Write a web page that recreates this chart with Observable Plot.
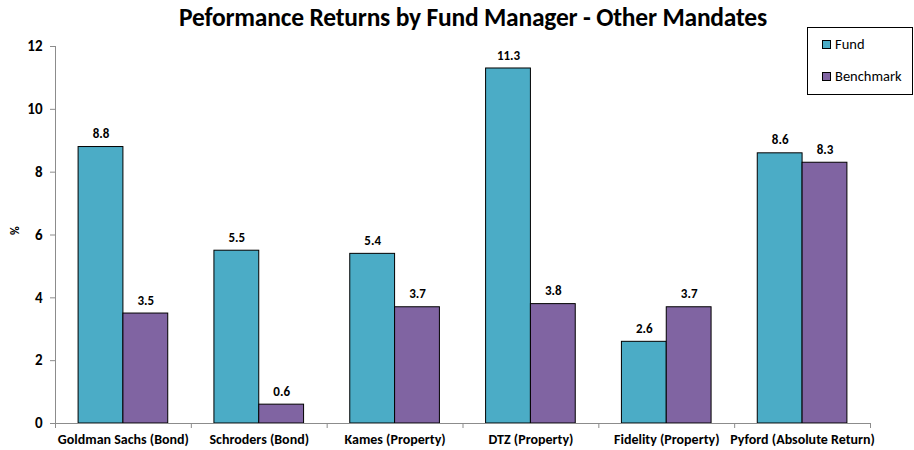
<!DOCTYPE html>
<html>
<head>
<meta charset="utf-8">
<script src="https://cdn.jsdelivr.net/npm/d3@7"></script>
<script src="https://cdn.jsdelivr.net/npm/@observablehq/plot@0.6"></script>
<style>
  body { margin: 0; background: #fff; }
  #wrap { position: relative; width: 914px; height: 450px; font-family: Carlito, Lato, sans-serif; }
  #title { position: absolute; left: 16px; top: 2px; width: 914px; text-align: center; font-size: 25.5px; font-weight: bold; color: #000; letter-spacing: -0.2px; }
  #legend { position: absolute; left: 807px; top: 27px; width: 104px; height: 66px; border: 1px solid #000; background: #fff; font-size: 14.5px; }
  .item { position: absolute; left: 14px; display: flex; align-items: center; }
  .sw { width: 7px; height: 7px; border: 1px solid #000; margin-right: 4px; }
  #chart { position: absolute; left: 0; top: 0; }
</style>
</head>
<body>
<div id="wrap">
  <div id="chart"></div>
  <div id="title">Peformance Returns by Fund Manager - Other Mandates</div>
  <div id="legend"></div>
</div>
<script>
const managers = ["Goldman Sachs (Bond)", "Schroders (Bond)", "Kames (Property)", "DTZ (Property)", "Fidelity (Property)", "Pyford (Absolute Return)"];
const fund = [8.8, 5.5, 5.4, 11.3, 2.6, 8.6];
const benchmark = [3.5, 0.6, 3.7, 3.8, 3.7, 8.3];
const seriesNames = ["Fund", "Benchmark"];
const seriesColors = ["#4BACC6", "#8064A2"];
const yTicks = [0, 2, 4, 6, 8, 10, 12];

const rows = [];
managers.forEach((m, i) => {
  rows.push({i, manager: m, series: "Fund", value: fund[i], x1: i + 0.17, x2: i + 0.5});
  rows.push({i, manager: m, series: "Benchmark", value: benchmark[i], x1: i + 0.5, x2: i + 0.83});
});

const font = "Carlito, Lato, sans-serif";
const chart = Plot.plot({
  width: 914,
  height: 450,
  marginLeft: 55,
  marginRight: 44,
  marginTop: 46,
  marginBottom: 27,
  style: {fontFamily: font, fontSize: "12px", color: "#000", background: "transparent"},
  x: {domain: [0, managers.length], axis: null},
  y: {domain: [0, 12], axis: null},
  color: {domain: seriesNames, range: seriesColors},
  marks: [
    Plot.rectY(rows, {x1: "x1", x2: "x2", y: "value", fill: "series", stroke: "#000", strokeWidth: 1}),
    Plot.text(rows, {x: d => (d.x1 + d.x2) / 2, y: "value", text: d => d.value.toFixed(1), dy: -13, fontWeight: "bold", fontSize: 13, fill: "#000"}),
    Plot.ruleY([0], {stroke: "#8c8c8c"}),
    Plot.ruleX([0], {y1: 0, y2: 12, stroke: "#8c8c8c"}),
    Plot.axisY({ticks: yTicks, tickSize: 5, stroke: "#8c8c8c", tickFormat: d => d, fontWeight: "bold", fontSize: 15, tickPadding: 8, label: null}),
    Plot.axisX({ticks: d3.range(0, managers.length + 1), tickSize: 5, stroke: "#8c8c8c", tickFormat: () => "", label: null}),
    Plot.axisX({ticks: managers.map((m, i) => i + 0.5), tickSize: 0, tickPadding: 11, tickFormat: (d) => managers[Math.floor(d)], fontWeight: "bold", fontSize: 14, label: null}),
    Plot.text(["%"], {frameAnchor: "left", dx: -40, rotate: -90, text: d => d, fontWeight: "bold", fontSize: 12})
  ]
});
document.getElementById("chart").appendChild(chart);

const legend = document.getElementById("legend");
seriesNames.forEach((s, k) => {
  const it = document.createElement("div");
  it.className = "item";
  it.style.top = (k === 0 ? 7 : 39) + "px";
  const sw = document.createElement("span");
  sw.className = "sw";
  sw.style.background = seriesColors[k];
  const tx = document.createElement("span");
  tx.textContent = s;
  it.appendChild(sw); it.appendChild(tx);
  legend.appendChild(it);
});
</script>
</body>
</html>
